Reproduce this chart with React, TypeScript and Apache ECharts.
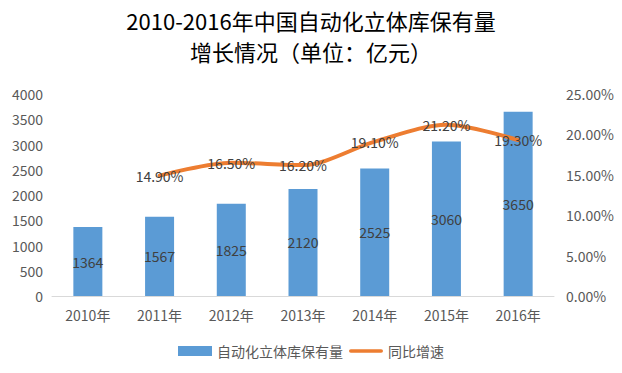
import React, { useEffect, useRef } from "react";
import * as echarts from "echarts";

const categories = ["2010年", "2011年", "2012年", "2013年", "2014年", "2015年", "2016年"];
const stockValues = [1364, 1567, 1825, 2120, 2525, 3060, 3650];
const growthRates: (number | null)[] = [null, 14.9, 16.5, 16.2, 19.1, 21.2, 19.3];
const leftTicks = { min: 0, max: 4000, interval: 500 };
const rightTicks = { min: 0, max: 25, interval: 5 };
const titleText = "2010-2016年中国自动化立体库保有量\n增长情况（单位：亿元）";
const barName = "自动化立体库保有量";
const lineName = "同比增速";

const FONT = "'Noto Sans CJK SC', 'Noto Sans', sans-serif";

export default function App() {
  const ref = useRef<HTMLDivElement>(null);
  useEffect(() => {
    document.body.style.margin = "0";
    if (!ref.current) return;
    const chart = echarts.init(ref.current, undefined, { renderer: "svg" });
    chart.setOption({
      animation: false,
      backgroundColor: "#ffffff",
      textStyle: { fontFamily: FONT },
      title: {
        text: titleText,
        left: "center",
        top: -1,
        textStyle: {
          fontFamily: FONT,
          fontSize: 22,
          fontWeight: "normal",
          color: "#000000",
          lineHeight: 31,
        },
      },
      legend: {
        bottom: 10,
        left: "center",
        itemGap: 6,
        textStyle: { fontFamily: FONT, fontSize: 14, color: "#595959" },
        data: [
          { name: barName, icon: "rect", itemStyle: { color: "#5B9BD5" } },
          { name: lineName, icon: "path://M2,0 L36,0 A2,2 0 0 1 36,4 L2,4 A2,2 0 0 1 2,0 Z", itemStyle: { color: "#ED7D31" } },
        ],
        itemWidth: 34,
        itemHeight: 10,
      },
      grid: { left: 52, right: 68, top: 94, bottom: 77, containLabel: false },
      xAxis: {
        type: "category",
        data: categories,
        axisLine: { lineStyle: { color: "#D9D9D9", width: 1 } },
        axisTick: { show: false },
        axisLabel: { color: "#595959", fontSize: 14, fontFamily: FONT, margin: 12 },
      },
      yAxis: [
        {
          type: "value",
          ...leftTicks,
          splitLine: { show: false },
          axisLine: { show: false },
          axisTick: { show: false },
          axisLabel: {
            color: "#595959",
            fontSize: 14,
            fontFamily: FONT,
            margin: 9,
            formatter: (v: number) => String(v),
          },
        },
        {
          type: "value",
          ...rightTicks,
          splitLine: { show: false },
          axisLine: { show: false },
          axisTick: { show: false },
          axisLabel: {
            color: "#595959",
            fontSize: 14,
            fontFamily: FONT,
            margin: 12,
            formatter: (v: number) => v.toFixed(2) + "%",
          },
        },
      ],
      series: [
        {
          name: barName,
          type: "bar",
          data: stockValues,
          barWidth: 29,
          itemStyle: { color: "#5B9BD5" },
          label: {
            show: true,
            position: "inside",
            color: "#404040",
            fontSize: 14,
            fontFamily: FONT,
          },
        },
        {
          name: lineName,
          type: "line",
          yAxisIndex: 1,
          data: growthRates,
          smooth: 0.3,
          showSymbol: true,
          symbol: "circle",
          symbolSize: 0,
          lineStyle: { color: "#ED7D31", width: 4, cap: "round" },
          itemStyle: { color: "#ED7D31" },
          label: {
            show: true,
            position: "inside",
            color: "#404040",
            fontSize: 14,
            fontFamily: FONT,
            formatter: (p: any) => Number(p.value).toFixed(2) + "%",
          },
          z: 5,
        },
      ],
    });
    return () => chart.dispose();
  }, []);
  return <div ref={ref} style={{ width: 622, height: 373 }} />;
}
